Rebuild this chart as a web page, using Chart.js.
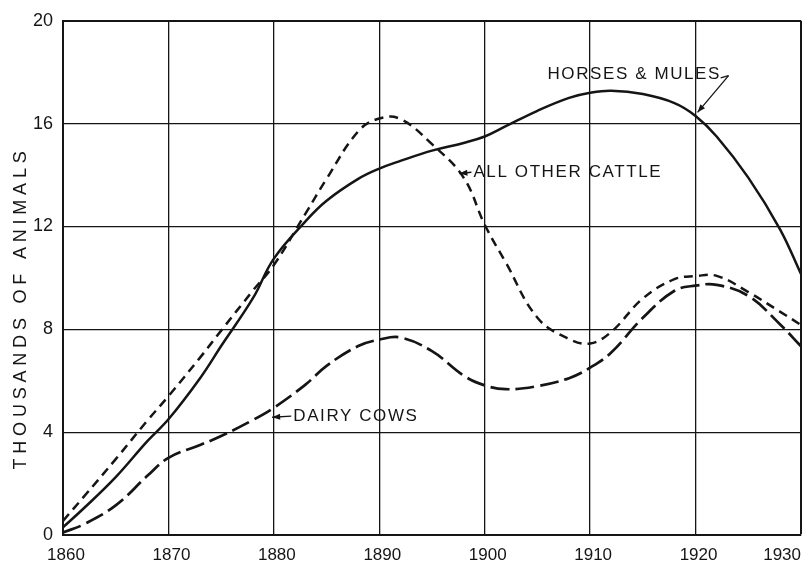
<!DOCTYPE html>
<html><head><meta charset="utf-8">
<script src="https://cdn.jsdelivr.net/npm/chart.js@4.4.1/dist/chart.umd.min.js"></script>
<style>html,body{margin:0;padding:0;background:#fff;}#wrap{width:804px;height:562px;}</style>
</head><body><div id="wrap"><canvas id="c" width="804" height="562"></canvas></div>
<script>
// ---- data ----
const years        = [1860,1862,1865,1868,1870,1873,1875,1878,1880,1883,1885,1888,1890,1892,1895,1898,1900,1902,1905,1908,1910,1912,1915,1918,1920,1922,1925,1928,1930];
const horsesMules  = [0.3,1.05,2.25,3.65,4.5,6.1,7.35,9.2,10.75,12.2,13.0,13.85,14.25,14.55,14.95,15.25,15.5,15.9,16.5,17.0,17.2,17.28,17.15,16.8,16.3,15.5,13.9,11.9,10.15];
const otherCattle  = [0.55,1.5,2.95,4.45,5.4,6.9,7.95,9.5,10.5,12.5,13.85,15.7,16.2,16.18,15.2,13.9,12.07,10.6,8.45,7.62,7.45,7.9,9.2,9.95,10.07,10.08,9.45,8.69,8.17];
const dairyCows    = [0.1,0.42,1.15,2.3,3.0,3.5,3.85,4.47,4.95,5.85,6.58,7.35,7.6,7.68,7.15,6.2,5.82,5.67,5.79,6.1,6.51,7.1,8.45,9.5,9.7,9.73,9.3,8.2,7.34];
const xTickLabels  = ['1860','1870','1880','1890','1900','1910','1920','1930'];
const yTickLabels  = ['0','4','8','12','16','20'];
const seriesNames  = ['HORSES & MULES','ALL OTHER CATTLE','DAIRY COWS'];
const axisTitle    = 'THOUSANDS OF ANIMALS';

const INK = '#151515';
const FONT = '"Liberation Sans", Arial, sans-serif';

function pts(arr){ return years.map((y,i)=>({x:y,y:arr[i]})); }

const annotate = {
  id:'annotate',
  afterDraw(chart){
    const ctx = chart.ctx, xs = chart.scales.x, ys = chart.scales.y, a = chart.chartArea;
    const P = (yr,v)=>[xs.getPixelForValue(yr), ys.getPixelForValue(v)];
    ctx.save();
    ctx.fillStyle = INK; ctx.strokeStyle = INK;
    // x tick labels
    ctx.font = '17px ' + FONT;
    ctx.textBaseline = 'middle';
    xTickLabels.forEach((t,i)=>{
      const px = xs.getPixelForValue(Number(t));
      if (i === xTickLabels.length-1){ ctx.textAlign='right'; ctx.fillText(t, a.right, 555); }
      else { ctx.textAlign='center'; ctx.fillText(t, px+3, 555); }
    });
    // y axis title
    ctx.save();
    ctx.translate(21, 308);
    ctx.rotate(-Math.PI/2);
    ctx.font = '18px ' + FONT;
    ctx.letterSpacing = '4.8px';
    ctx.textAlign = 'center'; ctx.textBaseline='middle';
    ctx.fillText(axisTitle, 0, 0);
    ctx.restore();
    // annotations
    ctx.font = '17px ' + FONT;
    ctx.letterSpacing = '1.6px';
    ctx.textAlign='left'; ctx.textBaseline='middle';
    function arrow(from,to){
      ctx.lineWidth = 1.3; ctx.setLineDash([]);
      ctx.beginPath(); ctx.moveTo(from[0],from[1]); ctx.lineTo(to[0],to[1]); ctx.stroke();
      const ang = Math.atan2(to[1]-from[1], to[0]-from[0]);
      const L=8, W=3;
      ctx.beginPath();
      ctx.moveTo(to[0],to[1]);
      ctx.lineTo(to[0]-L*Math.cos(ang)+W*Math.sin(ang), to[1]-L*Math.sin(ang)-W*Math.cos(ang));
      ctx.lineTo(to[0]-L*Math.cos(ang)-W*Math.sin(ang), to[1]-L*Math.sin(ang)+W*Math.cos(ang));
      ctx.closePath(); ctx.fill();
    }
    // horses & mules
    let p = P(1905.95, 17.91);
    ctx.fillText(seriesNames[0], p[0], p[1]);
    const h1 = P(1922.38,17.78), h2 = P(1923.13,17.87), h3 = P(1920.19,16.44);
    ctx.lineWidth = 1.3;
    ctx.beginPath(); ctx.moveTo(h1[0],h1[1]); ctx.lineTo(h2[0],h2[1]); ctx.stroke();
    arrow(h2,h3);
    // all other cattle
    p = P(1898.93, 14.11);
    ctx.fillText(seriesNames[1], p[0], p[1]);
    arrow([p[0]-2,p[1]], P(1897.6,14.06));
    // dairy cows
    p = P(1881.84, 4.62);
    ctx.fillText(seriesNames[2], p[0], p[1]);
    arrow([p[0]-2,p[1]], P(1879.84,4.58));
    ctx.restore();
  }
};

new Chart(document.getElementById('c'), {
  type:'line',
  data:{ datasets:[
    {label:seriesNames[0], data:pts(horsesMules), borderColor:INK, borderWidth:2.5, pointRadius:0, tension:0.4, fill:false},
    {label:seriesNames[1], data:pts(otherCattle), borderColor:INK, borderWidth:2.5, borderDash:[9,6], pointRadius:0, tension:0.4, fill:false},
    {label:seriesNames[2], data:pts(dairyCows), borderColor:INK, borderWidth:2.7, borderDash:[19,6], pointRadius:0, tension:0.4, fill:false}
  ]},
  options:{
    responsive:false, animation:false, devicePixelRatio:1,
    layout:{padding:{left:0,right:3,top:13,bottom:0}},
    plugins:{legend:{display:false}, tooltip:{enabled:false}},
    scales:{
      x:{type:'linear', min:1860, max:1930,
         ticks:{display:false, stepSize:10},
         grid:{color:INK, lineWidth:c=>(c.tick && (c.tick.value===1930))?2:1.3, drawTicks:false},
         border:{display:true, color:INK, width:2},
         afterFit(s){ s.height = 27; }},
      y:{type:'linear', min:0, max:20,
         ticks:{stepSize:4, color:INK, padding:10, font:{family:FONT, size:18},
                callback:(v)=> yTickLabels[v/4]},
         grid:{color:INK, lineWidth:c=>(c.tick && (c.tick.value===20))?2:1.3, drawTicks:false},
         border:{display:true, color:INK, width:2},
         afterFit(s){ s.width = 63; }}
    }
  },
  plugins:[annotate]
});
</script></body></html>
